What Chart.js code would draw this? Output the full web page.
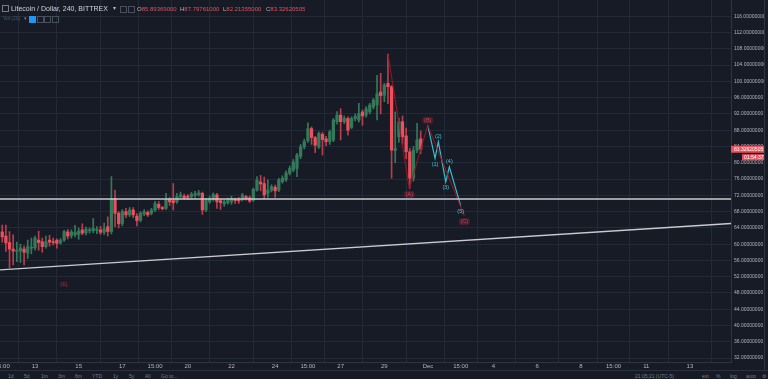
<!DOCTYPE html>
<html>
<head>
<meta charset="utf-8">
<script src="https://cdn.jsdelivr.net/npm/chart.js@4.4.0/dist/chart.umd.min.js"></script>
<style>
  html, body { margin: 0; padding: 0; background: #171b26; }
  #wrap { position: relative; width: 768px; height: 379px; overflow: hidden; font-family: "Liberation Sans", Arial, sans-serif; }
  #box { position: absolute; left: 0; top: 0; width: 768px; height: 370px; }
  .t { position: absolute; white-space: nowrap; line-height: 1; }
  .ic { position: absolute; width: 5px; height: 5px; border: 1px solid #4a4f5c; }
  #bar { position: absolute; left: 0; top: 370px; width: 768px; height: 9px; border-top: 1px solid #2c313e; background: #171b26; }
  #bar span { position: absolute; top: 2px; font-size: 5px; color: #787b86; }
</style>
</head>
<body>
<div id="wrap">
  <div id="box"><canvas id="chart"></canvas></div>
  <div style="position:absolute;left:764px;top:0;width:1px;height:370px;background:#2f3441"></div>

  <div class="ic" style="left:2px;top:5px;border-color:#787b86"></div>
  <div class="t" style="left:11px;top:5px;font-size:7px;color:#d1d4dc">Litecoin / Dollar, 240, BITTREX</div>
  <div class="t" style="left:113px;top:5px;font-size:6px;color:#b2b5be">▾</div>
  <div class="ic" style="left:120px;top:6px"></div>
  <div class="ic" style="left:128px;top:6px"></div>
  <div class="t" style="left:137px;top:5.5px;font-size:6px;color:#b2b5be">O<span style="color:#e0525e">85.89369000</span></div>
  <div class="t" style="left:180px;top:5.5px;font-size:6px;color:#b2b5be">H<span style="color:#e0525e">87.79761000</span></div>
  <div class="t" style="left:223px;top:5.5px;font-size:6px;color:#b2b5be">L<span style="color:#e0525e">82.21355000</span></div>
  <div class="t" style="left:266px;top:5.5px;font-size:6px;color:#b2b5be">C<span style="color:#e0525e">83.32620505</span></div>

  <div class="t" style="left:3px;top:16px;font-size:5px;color:#4f5563">Vol (20)</div>
  <div class="t" style="left:24px;top:16px;font-size:5px;color:#787b86">▾</div>
  <div class="ic" style="left:29px;top:16px;background:#2196f3;border-color:#2196f3"></div>
  <div class="ic" style="left:37px;top:16px"></div>
  <div class="ic" style="left:44px;top:16px"></div>
  <div class="ic" style="left:52px;top:16px"></div>

  <div id="bar">
    <span style="left:8px">1d</span>
    <span style="left:24px">5d</span>
    <span style="left:41px">1m</span>
    <span style="left:58px">3m</span>
    <span style="left:75px">6m</span>
    <span style="left:92px">YTD</span>
    <span style="left:113px">1y</span>
    <span style="left:129px">5y</span>
    <span style="left:145px">All</span>
    <span style="left:161px">Go to...</span>
    <span style="left:635px">21:05:21 (UTC-5)</span>
    <span style="left:702px">ext</span>
    <span style="left:716px">%</span>
    <span style="left:730px">log</span>
    <span style="left:746px">auto</span>
    <span style="left:762px">⚙</span>
  </div>
</div>

<script>
// LTC/USD 240 min candles
const opens  = [63.0, 62.0, 60.4, 58.8, 58.2, 58.3, 58.8, 57.8, 59.0, 59.1,
                61.0, 60.6, 59.4, 61.0, 60.6, 61.0, 60.3, 61.0, 63.0, 62.1,
                62.3, 62.4, 63.5, 62.8, 63.3, 63.3, 63.4, 63.5, 62.9, 64.3,
                63.1, 71.2, 67.6, 65.1, 68.0, 67.2, 68.4, 66.9, 65.9, 67.4,
                67.8, 67.6, 68.4, 69.8, 69.0, 68.8, 71.0, 70.7, 70.4, 71.7,
                71.8, 71.8, 71.7, 72.0, 72.2, 72.5, 68.4, 70.4, 71.0, 72.1,
                70.7, 69.9, 70.2, 70.4, 70.9, 70.9, 71.0, 71.7, 71.4, 70.8,
                73.3, 75.3, 74.9, 72.5, 73.3, 74.0, 73.3, 75.3, 75.8, 77.4,
                78.2, 78.6, 81.6, 83.9, 85.4, 88.4, 86.2, 83.9, 87.0, 85.9,
                85.2, 85.6, 90.1, 91.7, 90.1, 90.9, 88.7, 90.8, 90.5, 92.5,
                91.7, 92.5, 93.7, 94.2, 97.4, 96.6, 99.5, 98.7, 83.0, 86.4,
                90.1, 86.6, 82.7, 76.2, 83.1, 85.89369];
const highs  = [64.7, 64.7, 63.1, 62.3, 60.5, 60.0, 59.5, 61.0, 61.5, 62.0,
                63.2, 61.5, 62.0, 62.2, 61.5, 61.3, 61.4, 63.4, 63.6, 63.5,
                64.6, 64.0, 65.0, 64.2, 64.0, 66.3, 64.3, 64.4, 65.2, 66.7,
                76.6, 73.3, 68.0, 68.5, 68.8, 69.0, 69.0, 67.5, 68.0, 68.5,
                68.2, 68.8, 70.5, 70.5, 69.3, 72.5, 71.5, 74.9, 72.5, 72.8,
                72.3, 72.2, 72.7, 73.0, 73.2, 72.8, 71.2, 71.8, 72.6, 72.5,
                71.0, 70.8, 71.3, 71.8, 71.3, 71.5, 72.5, 72.0, 71.8, 73.8,
                76.6, 76.9, 76.5, 75.8, 74.6, 74.5, 76.2, 76.8, 78.0, 79.2,
                80.8, 82.3, 84.5, 85.8, 89.8, 88.8, 86.5, 87.6, 87.5, 86.5,
                88.0, 90.9, 92.6, 93.3, 91.5, 91.3, 91.3, 92.0, 94.6, 93.0,
                93.8, 94.6, 95.8, 101.5, 102.0, 99.5, 106.7, 99.0, 92.5, 91.0,
                91.5, 88.5, 83.5, 84.0, 89.7, 87.79761];
const lows   = [60.5, 58.2, 54.2, 54.9, 55.7, 55.5, 54.9, 56.5, 57.6, 58.5,
                58.5, 58.0, 59.0, 59.5, 59.8, 59.0, 60.0, 60.7, 61.3, 61.5,
                61.8, 61.2, 62.3, 62.3, 62.7, 62.8, 62.6, 62.4, 62.4, 62.0,
                62.5, 64.3, 64.0, 64.5, 66.5, 66.8, 66.5, 64.5, 65.5, 67.0,
                66.8, 67.2, 68.0, 68.5, 68.4, 68.5, 69.5, 68.4, 70.0, 71.2,
                71.0, 71.0, 71.2, 71.5, 71.8, 67.3, 68.0, 70.0, 70.6, 68.8,
                68.5, 69.3, 69.8, 69.8, 70.0, 70.0, 70.6, 70.8, 70.2, 70.5,
                73.0, 73.1, 71.2, 71.5, 72.8, 71.5, 72.9, 75.0, 75.4, 77.0,
                77.8, 76.6, 81.0, 83.4, 85.0, 84.5, 82.5, 83.5, 81.9, 84.2,
                84.5, 85.2, 89.5, 85.6, 89.6, 86.8, 88.4, 90.3, 90.0, 89.2,
                91.2, 92.0, 93.2, 90.5, 92.0, 95.0, 94.5, 76.2, 80.0, 85.0,
                84.5, 81.0, 73.7, 75.5, 82.5, 82.21355];
const closes = [61.8, 60.3, 58.8, 58.3, 58.5, 59.1, 58.0, 59.4, 59.2, 61.5,
                60.4, 59.4, 60.6, 60.5, 60.4, 60.2, 60.9, 63.1, 62.0, 63.0,
                62.9, 63.2, 62.7, 63.7, 63.5, 63.9, 63.6, 62.9, 63.8, 63.1,
                71.2, 67.6, 65.0, 68.0, 67.2, 68.4, 67.2, 65.8, 67.6, 68.0,
                67.2, 68.4, 70.0, 69.0, 68.7, 71.0, 70.4, 70.2, 71.7, 72.1,
                71.4, 71.5, 72.3, 72.4, 72.6, 68.4, 70.8, 71.2, 72.2, 70.4,
                70.2, 70.4, 70.8, 71.2, 70.7, 70.6, 72.1, 71.2, 70.6, 73.5,
                75.8, 74.8, 72.1, 73.3, 74.1, 73.1, 75.8, 76.2, 77.5, 78.6,
                80.2, 81.9, 83.9, 85.2, 88.4, 86.2, 84.3, 87.2, 85.7, 85.2,
                87.6, 90.5, 91.7, 90.1, 90.9, 88.0, 90.9, 91.4, 92.1, 91.5,
                93.3, 94.2, 95.4, 97.0, 96.5, 99.1, 98.7, 83.1, 83.5, 90.1,
                86.4, 82.7, 76.2, 83.1, 85.6, 83.32620505];

// time axis in days of November (Dec 1 = 31), first bar Nov 11 12:00
const firstBarDay = 11.5;
const barsPerDay = 6;
const viewDays = [11.397, 44.88];

const tickDays  = [11.5, 13, 15, 17, 18.5, 20, 22, 24, 25.5, 27, 29, 31, 32.5, 34, 36, 38, 39.5, 41, 43];
const tickNames = ['15:00', '13', '15', '17', '15:00', '20', '22', '24', '15:00', '27', '29', 'Dec', '15:00', '4', '6', '8', '15:00', '11', '13'];
const priceTicks = [32, 36, 40, 44, 48, 52, 56, 60, 64, 68, 72, 76, 80, 84, 88, 92, 96, 100, 104, 108, 112, 116];

// drawings
const supportLevel = 71.1;
const trendDays = [11.397, 44.88];
const trendPrices = [53.67, 65.08];
const redWaveDays = [29.167, 30.146, 30.989, 32.666];
const redWavePrices = [106.7, 73.7, 89.2, 67.0];
const redWaveNames = ['', '(A)', '(B)', '(C)'];
const cyanWaveDays = [30.989, 31.324, 31.475, 31.814, 31.979, 32.50];
const cyanWavePrices = [89.2, 81.1, 85.2, 75.3, 79.0, 69.4];
const cyanWaveNames = ['', '(1)', '(2)', '(3)', '(4)', '(5)'];
const eLabel = { day: 14.33, price: 50.0, name: '(E)' };

const upColor = '#337a5b';
const downColor = '#ee4f5d';
const downWick = '#b83e4c';

var barDays = closes.map((c, i) => firstBarDay + i / barsPerDay);
var isUp = closes.map((c, i) => c >= opens[i]);

var wicks = barDays.map((d, i) => ({ x: d, y: [lows[i], highs[i]] }));
var bodies = barDays.map((d, i) => ({ x: d, y: [opens[i], closes[i]] }));

function pts(xs, ys) {
    return xs.map((x, i) => ({ x: x, y: ys[i] }));
}

// no label overflow padding, the plot runs to the edges like on TradingView
function noPad(s) {
    s.paddingLeft = 0; s.paddingRight = 0; s.paddingTop = 0; s.paddingBottom = 0;
}

Chart.defaults.font.family = '"Liberation Sans", Arial, sans-serif';

var labelsPlugin = {
    id: 'labelsPlugin',
    afterDatasetsDraw(chart) {
        const ctx = chart.ctx;
        const x = chart.scales.x, y = chart.scales.y;
        const area = chart.chartArea;
        ctx.save();
        ctx.font = '5.5px "Liberation Sans", Arial, sans-serif';
        ctx.textAlign = 'center';
        ctx.textBaseline = 'middle';

        function waveLabels(days, prices, names, color, bg) {
            for (let i = 0; i < days.length; i++) {
                if (!names[i]) continue;
                let prev = prices[i - 1];
                let peak = prev !== undefined && prices[i] > prev;
                let px = x.getPixelForValue(days[i]);
                let py = y.getPixelForValue(prices[i]) + (peak ? -5 : 6);
                if (bg) {
                    ctx.fillStyle = bg;
                    ctx.beginPath();
                    ctx.roundRect(px - 5.5, py - 3.5, 11, 7, 3);
                    ctx.fill();
                }
                ctx.fillStyle = color;
                ctx.fillText(names[i], px, py);
            }
        }
        waveLabels(redWaveDays, redWavePrices, redWaveNames, '#c0485a', 'rgba(120,30,45,0.55)');
        waveLabels(cyanWaveDays, cyanWavePrices, cyanWaveNames, '#3fc9d6', null);

        ctx.fillStyle = '#a8303f';
        ctx.fillText(eLabel.name, x.getPixelForValue(eLabel.day), y.getPixelForValue(eLabel.price));

        // last price marker on the price scale
        let last = closes[closes.length - 1];
        let ly = y.getPixelForValue(last);
        ctx.fillStyle = '#ee4f5d';
        ctx.fillRect(area.right, ly - 3.5, 33, 7);
        ctx.fillRect(area.right + 11, ly + 5, 22, 6);
        ctx.fillStyle = '#ffffff';
        ctx.textAlign = 'left';
        ctx.font = '5px "Liberation Sans", Arial, sans-serif';
        ctx.fillText(last.toFixed(8), area.right + 3, ly);
        ctx.fillText('01:54:37', area.right + 13, ly + 8);
        ctx.restore();
    }
};

new Chart(document.getElementById('chart'), {
    type: 'bar',
    data: {
        datasets: [
            {
                type: 'line', data: [{ x: viewDays[0], y: supportLevel }, { x: viewDays[1], y: supportLevel }],
                borderColor: '#c9cbd1', borderWidth: 1.3, pointRadius: 0, order: 0
            },
            {
                type: 'line', data: pts(trendDays, trendPrices),
                borderColor: '#c9cbd1', borderWidth: 1.3, pointRadius: 0, order: 0
            },
            {
                type: 'line', data: pts(redWaveDays, redWavePrices),
                borderColor: 'rgba(150,25,40,0.85)', borderWidth: 1.2, pointRadius: 0, order: 0
            },
            {
                type: 'line', data: pts(cyanWaveDays, cyanWavePrices),
                borderColor: '#33bfcc', borderWidth: 1.2, pointRadius: 0, order: 0
            },
            {
                data: bodies, grouped: false, barThickness: 2.6, minBarLength: 1,
                backgroundColor: isUp.map(u => u ? upColor : downColor), order: 1
            },
            {
                data: wicks, grouped: false, barThickness: 1,
                backgroundColor: isUp.map(u => u ? upColor : downWick), order: 2
            }
        ]
    },
    options: {
        responsive: true,
        maintainAspectRatio: false,
        animation: false,
        layout: { autoPadding: false, padding: { left: 0, right: 4, top: 0, bottom: 0 } },
        plugins: { legend: { display: false }, tooltip: { enabled: false } },
        scales: {
            x: {
                type: 'linear', position: 'bottom', min: viewDays[0], max: viewDays[1], offset: false,
                grid: { color: '#242937', drawTicks: false },
                border: { display: true, color: '#2f3441' },
                ticks: {
                    color: '#b2b5be', font: { size: 6 }, padding: 1, maxRotation: 0, autoSkip: false,
                    callback: (v) => tickNames[tickDays.indexOf(v)]
                },
                afterBuildTicks: (s) => { s.ticks = tickDays.map(v => ({ value: v })); },
                afterFit: (s) => { s.height = 8; noPad(s); }
            },
            y: {
                type: 'linear', position: 'right', min: 31.04, max: 120,
                grid: { color: '#242937', drawTicks: false },
                border: { display: true, color: '#2f3441' },
                ticks: {
                    color: '#b2b5be', font: { size: 5 }, padding: 3,
                    callback: (v) => v.toFixed(8)
                },
                afterBuildTicks: (s) => { s.ticks = priceTicks.map(v => ({ value: v })); },
                afterFit: (s) => { s.width = 33; noPad(s); }
            }
        }
    },
    plugins: [labelsPlugin]
});
</script>
</body>
</html>
